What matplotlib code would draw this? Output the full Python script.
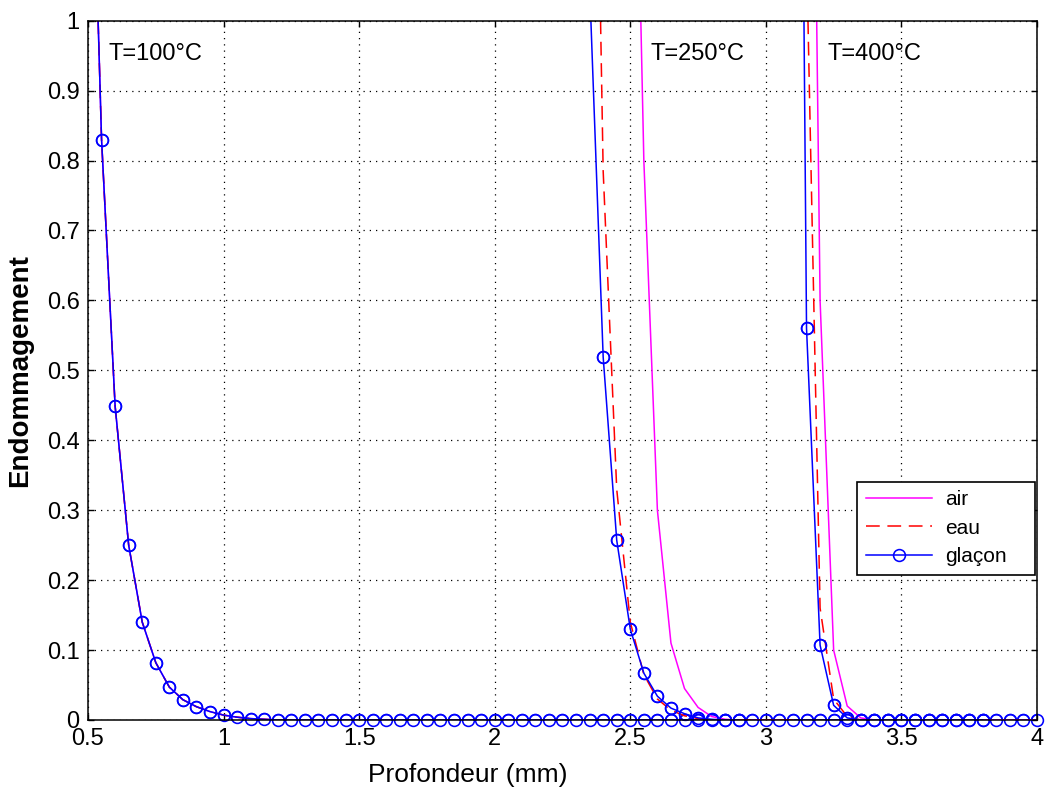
import numpy as np
import matplotlib.pyplot as plt

plt.rcParams['font.family'] = ['Liberation Sans', 'DejaVu Sans']

# Data: damage vs depth, three cooling media at three temperatures
temps = ['T=100°C', 'T=250°C', 'T=400°C']
media = ['air', 'eau', 'glaçon']

x100 = np.round(np.arange(0.50, 4.001, 0.05), 2)
air100 = [1.50, 0.83, 0.449, 0.250, 0.140, 0.082, 0.047, 0.029, 0.019, 0.012,
          0.007, 0.004, 0.002, 0.001]
eau100 = [1.50, 0.83, 0.449, 0.250, 0.140, 0.082, 0.047, 0.029, 0.019, 0.012,
          0.007, 0.004, 0.002, 0.001]
gla100 = [1.50, 0.83, 0.449, 0.250, 0.140, 0.082, 0.047, 0.029, 0.019, 0.012,
          0.007, 0.004, 0.002, 0.001]

x250_air = np.round(np.arange(2.50, 3.101, 0.05), 2)
air250 = [1.70, 0.80, 0.30, 0.11, 0.045, 0.018, 0.005, 0.001]
x250_eau = np.round(np.arange(2.35, 3.101, 0.05), 2)
eau250 = [1.90, 0.785, 0.33, 0.14, 0.065, 0.030, 0.014, 0.006, 0.002, 0.0005]
x250_gla = np.round(np.arange(2.35, 2.901, 0.05), 2)
gla250 = [1.05, 0.519, 0.257, 0.130, 0.067, 0.034, 0.017, 0.009, 0.003, 0.001]

x400_air = np.round(np.arange(3.15, 4.001, 0.05), 2)
air400 = [2.20, 0.60, 0.10, 0.020, 0.003]
x400_eau = np.round(np.arange(3.10, 3.801, 0.05), 2)
eau400 = [5.00, 1.10, 0.16, 0.030, 0.005]
x400_gla = np.round(np.arange(3.10, 3.801, 0.05), 2)
gla400 = [2.90, 0.56, 0.107, 0.021, 0.003]

label_x = [0.574, 2.574, 3.228]
label_y = 0.952


def full(x, vals):
    # values, zero once the curve reaches the axis
    return np.array(vals + [0.0] * (len(x) - len(vals)))


series = [
    (x100, air100, eau100, gla100, x100, x100),
    (x250_air, air250, eau250, gla250, x250_eau, x250_gla),
    (x400_air, air400, eau400, gla400, x400_eau, x400_gla),
]

fig = plt.figure(figsize=(10.46, 7.99), dpi=100)
ax = fig.add_axes([88 / 1046, 1 - 720 / 799, 949 / 1046, 699.3 / 799])

lw = 1.1
handles = []
for xa, a, e, g, xe, xg in series:
    h1, = ax.plot(xa, full(xa, a), color='#ff00ff', lw=lw)
    h2, = ax.plot(xe, full(xe, e), color='#ff0000', lw=lw, ls=(0, (9, 5)))
    yg = full(xg, g)
    h3, = ax.plot(xg, yg, color='#0000ff', lw=lw, marker='o', ms=8.5,
                  mfc='none', mew=1.15)
    keep = yg <= 1.0
    ax.plot(xg[keep], yg[keep], ls='none', marker='o', ms=8.5, mfc='none',
            mec='#0000ff', mew=1.15, clip_on=False)
    if not handles:
        handles = [h1, h2, h3]

for t, lx in zip(temps, label_x):
    ax.text(lx, label_y, t, fontsize=17, ha='left', va='center')

ax.set_xlim(0.5, 4)
ax.set_ylim(0, 1)
xt = np.arange(0.5, 4.01, 0.5)
yt = np.arange(0, 1.01, 0.1)
ax.set_xticks(xt)
ax.set_xticklabels(['%g' % v for v in xt])
ax.set_yticks(yt)
ax.set_yticklabels(['%g' % round(v, 1) for v in yt])
ax.tick_params(direction='in', length=4, width=1, labelsize=17, pad=6,
               top=True, right=True)
ax.grid(True, color='black', ls=(0, (1, 4)), lw=0.9)
for s in ax.spines.values():
    s.set_linewidth(1.1)

ax.set_xlabel('Profondeur (mm)', fontsize=19)
ax.set_ylabel('Endommagement', fontsize=20, fontweight='bold')
ax.xaxis.set_label_coords(0.40, -0.062)
ax.yaxis.set_label_coords(-0.058, 0.5)

leg = ax.legend(handles, media, loc='upper left',
                bbox_to_anchor=(0.8103, 0.206, 0.1876, 0.135), mode='expand',
                borderaxespad=0, fontsize=15, fancybox=False, framealpha=1,
                edgecolor='black', handlelength=3.2, handletextpad=0.6,
                labelspacing=0.45, borderpad=0.42)
leg.get_frame().set_linewidth(1.2)

fig.savefig('out.png', dpi=100)
